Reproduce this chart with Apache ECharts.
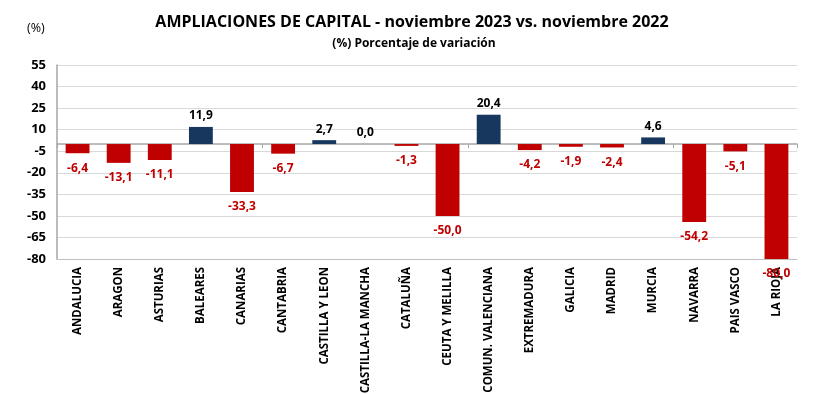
<!DOCTYPE html>
<html><head><meta charset="utf-8">
<script src="https://cdn.jsdelivr.net/npm/echarts@6/dist/echarts.min.js"></script>
<style>html,body{margin:0;padding:0;background:#fff}#c{width:822px;height:394px}</style>
</head><body><div id="c"></div>
<script>
const categories = ['ANDALUCIA','ARAGON','ASTURIAS','BALEARES','CANARIAS','CANTABRIA','CASTILLA Y LEON','CASTILLA-LA MANCHA','CATALUÑA','CEUTA Y MELILLA','COMUN. VALENCIANA','EXTREMADURA','GALICIA','MADRID','MURCIA','NAVARRA','PAIS VASCO','LA RIOJA'];
const values = [-6.4,-13.1,-11.1,11.9,-33.3,-6.7,2.7,0.0,-1.3,-50.0,20.4,-4.2,-1.9,-2.4,4.6,-54.2,-5.1,-80.0];
const yMin = -80, yMax = 55, yStep = 15;
const title = 'AMPLIACIONES DE CAPITAL - noviembre 2023 vs. noviembre 2022';
const subtitle = '(%) Porcentaje de variación';
const unitLabel = '(%)';

const RED = '#C00000', NAVY = '#17375E';
const FONT = '"Open Sans", "Noto Sans", sans-serif';
const fmt = v => v.toFixed(1).replace('.', ',');

const data = values.map(v => {
  const pos = v >= 0;
  return {
    value: v,
    itemStyle: { color: pos ? NAVY : RED },
    label: {
      position: pos ? 'top' : 'bottom',
      distance: pos ? 5 : 9,
      color: pos ? '#000' : RED
    }
  };
});

const chart = echarts.init(document.getElementById('c'), null, { renderer: 'canvas' });
chart.setOption({
  animation: false,
  backgroundColor: '#fff',
  title: [
    { text: title, left: 407, top: 9, textAlign: 'center',
      textStyle: { fontFamily: FONT, fontSize: 16, fontWeight: 'bold', color: '#000' } },
    { text: subtitle, left: 409, top: 33, textAlign: 'center',
      textStyle: { fontFamily: FONT, fontSize: 12, fontWeight: 'bold', color: '#000' } },
    { text: unitLabel, left: 22, top: 17,
      textStyle: { fontFamily: FONT, fontSize: 12.5, fontWeight: 'normal', color: '#000' } }
  ],
  grid: { left: 57, right: 25, top: 65, bottom: 135, containLabel: false, outerBoundsMode: 'none' },
  xAxis: [
    {
      type: 'category', data: categories, position: 'bottom',
      axisLine: { onZero: false, show: true, lineStyle: { color: '#BFBFBF' } },
      axisTick: { show: false },
      axisLabel: { rotate: 90, interval: 0, margin: 8, fontFamily: FONT, fontSize: 11.5,
        fontWeight: 'bold', color: '#000' }
    },
    {
      type: 'category', data: categories, position: 'bottom',
      axisLine: { onZero: true, show: true, lineStyle: { color: '#A6A6A6', width: 1.5 } },
      axisTick: { show: true, alignWithLabel: false, length: 4, inside: false, lineStyle: { color: '#A6A6A6' } },
      axisLabel: { show: false }
    }
  ],
  yAxis: {
    type: 'value', min: yMin, max: yMax, interval: yStep,
    axisLine: { show: true, lineStyle: { color: '#A6A6A6', width: 1.5 } },
    axisTick: { show: false },
    splitLine: { show: true, lineStyle: { color: '#D9D9D9', width: 1 } },
    axisLabel: { fontFamily: FONT, fontSize: 13, fontWeight: 'bold', color: '#000', margin: 11 }
  },
  series: [{
    type: 'bar', xAxisIndex: 0, data: data, barCategoryGap: '42%',
    label: { show: true, fontFamily: FONT, fontSize: 12, fontWeight: 'bold',
      formatter: p => fmt(p.value) }
  }]
});
</script></body></html>
